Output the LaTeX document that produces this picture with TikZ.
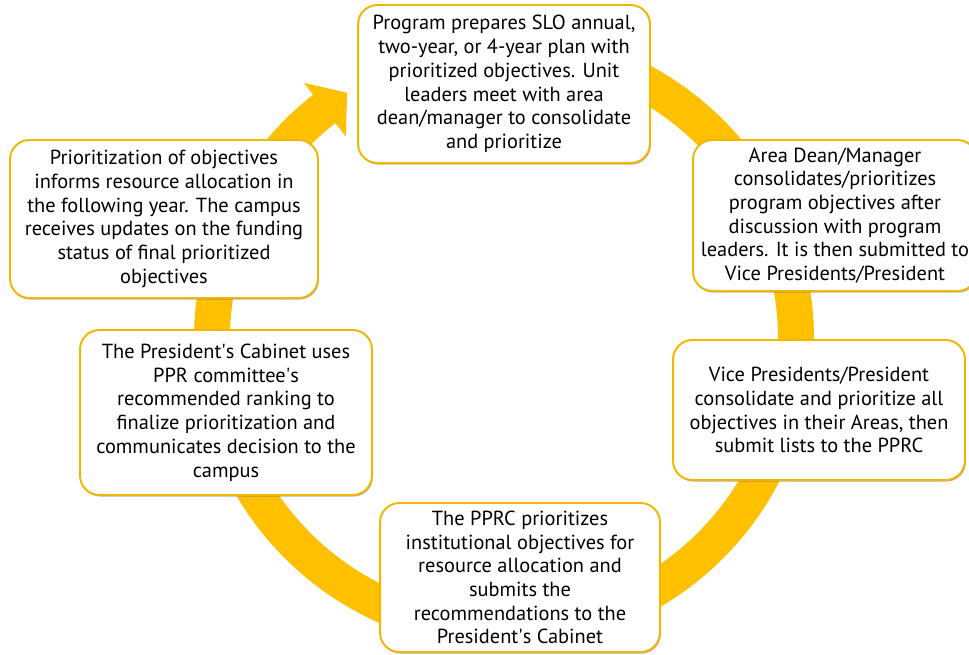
\documentclass[tikz,border=0pt]{standalone}
\usepackage{fontspec}
\setmainfont{PT Sans}
\usetikzlibrary{shadows}
\definecolor{ringgold}{HTML}{FFC000}
\definecolor{boxgold}{HTML}{F2B600}

\begin{document}
\begin{tikzpicture}[x=0.02cm,y=0.02cm]
\tikzstyle{stepbox}=[draw=boxgold, line width=1.1pt, fill=white, rounded corners=11pt, align=center, inner sep=0pt, font=\fontsize{11.6}{13.5}\selectfont, drop shadow={shadow xshift=0.5pt, shadow yshift=-0.9pt, opacity=0.55, fill=black!55}]
\useasboundingbox (0,0) rectangle (969,-654);
\begin{scope}[shift={(504,-339)}]
\fill [ringgold] (95:310) arc [start angle=95, end angle=-232, radius=310] -- (128:325) -- (122.5:292) -- (128:257) -- (128:274) arc [start angle=-232, end angle=95, radius=274] -- cycle;
\end{scope}
\node [stepbox, minimum width=5.84cm, minimum height=3.16cm] (plan) at (504,-84) {Program prepares SLO annual,\\two-year, or 4-year plan with\\prioritized objectives. Unit\\leaders meet with area\\dean/manager to consolidate\\and prioritize};
\node [stepbox, minimum width=5.68cm, minimum height=3.02cm] (dean) at (835,-215.5) {Area Dean/Manager\\consolidates/prioritizes\\program objectives after\\discussion with program\\leaders. It is then submitted to\\Vice Presidents/President};
\node [stepbox, minimum width=5.84cm, minimum height=2.8cm] (vp) at (819,-410) {Vice Presidents/President\\consolidate and prioritize all\\objectives in their Areas, then\\submit lists to the PPRC};
\node [stepbox, minimum width=5.6cm, minimum height=2.98cm] (pprc) at (520,-577.5) {The PPRC prioritizes\\institutional objectives for\\resource allocation and\\submits the\\recommendations to the\\President\textquotesingle s Cabinet};
\node [stepbox, minimum width=5.84cm, minimum height=3.3cm] (cabinet) at (226,-412.5) {The President\textquotesingle s Cabinet uses\\PPR committee\textquotesingle s\\recommended ranking to\\finalize prioritization and\\communicates decision to the\\campus};
\node [stepbox, minimum width=6.16cm, minimum height=3.16cm] (alloc) at (164,-219) {Prioritization of objectives\\informs resource allocation in\\the following year. The campus\\receives updates on the funding\\status of final prioritized\\objectives};
\end{tikzpicture}
\end{document}
